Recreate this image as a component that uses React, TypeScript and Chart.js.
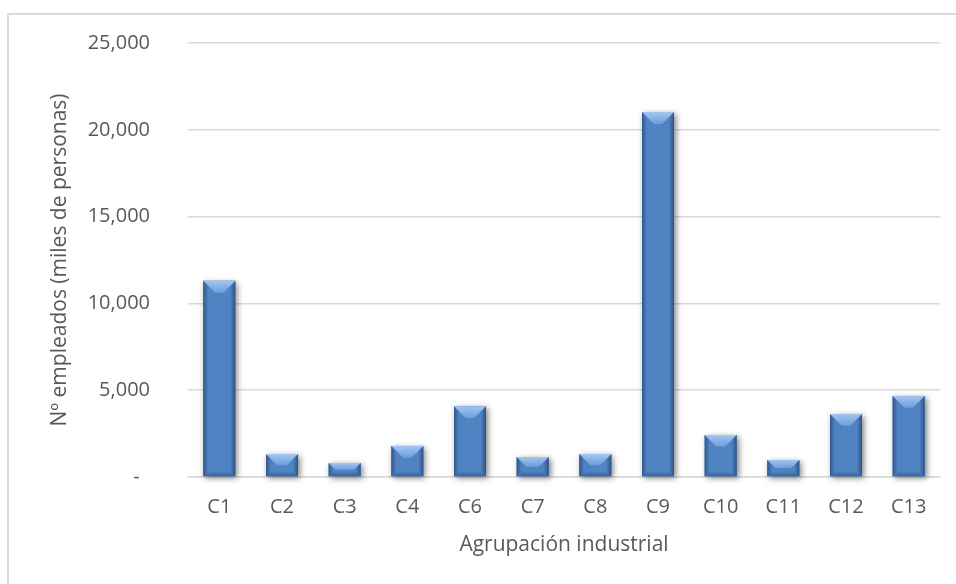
import React, { useEffect, useRef } from "react";
import { Chart, registerables } from "chart.js";

Chart.register(...registerables);

const categories = ["C1", "C2", "C3", "C4", "C6", "C7", "C8", "C9", "C10", "C11", "C12", "C13"];
const employees = [11300, 1320, 800, 1790, 4080, 1150, 1320, 21020, 2420, 980, 3630, 4670];
const yTicks = [0, 5000, 10000, 15000, 20000, 25000];

const FONT = "'Open Sans', sans-serif";
const BAR = "#4f83c3";
const TEXT = "#595959";

const bevelPlugin = {
  id: "bevel",
  beforeDatasetsDraw(chart: any) {
    const ctx = chart.ctx;
    const meta = chart.getDatasetMeta(0);
    meta.data.forEach((bar: any) => {
      const { x, y, base, width } = bar.getProps(["x", "y", "base", "width"], true);
      ctx.save();
      ctx.shadowColor = "rgba(0,0,0,0.5)";
      ctx.shadowBlur = 6;
      ctx.shadowOffsetX = 2;
      ctx.shadowOffsetY = 2;
      ctx.fillStyle = BAR;
      ctx.fillRect(x - width / 2, y, width, base - y);
      ctx.restore();
    });
  },
  afterDatasetsDraw(chart: any) {
    const ctx = chart.ctx;
    const meta = chart.getDatasetMeta(0);
    meta.data.forEach((bar: any) => {
      const { x, y, base, width } = bar.getProps(["x", "y", "base", "width"], true);
      const x0 = x - width / 2, x1 = x + width / 2, y0 = y, y1 = base;
      const h = y1 - y0;
      const b = Math.min(12, width * 0.37, h / 2);
      const s = Math.min(5, h / 2);
      ctx.save();
      let g = ctx.createLinearGradient(x0, 0, x0 + s, 0);
      g.addColorStop(0, "rgba(25,50,90,0.55)");
      g.addColorStop(1, "rgba(25,50,90,0)");
      ctx.fillStyle = g;
      ctx.beginPath();
      ctx.moveTo(x0, y0); ctx.lineTo(x0 + s, y0 + s); ctx.lineTo(x0 + s, y1 - s); ctx.lineTo(x0, y1); ctx.closePath();
      ctx.fill();
      g = ctx.createLinearGradient(x1 - s, 0, x1, 0);
      g.addColorStop(0, "rgba(25,50,90,0)");
      g.addColorStop(1, "rgba(25,50,90,0.6)");
      ctx.fillStyle = g;
      ctx.beginPath();
      ctx.moveTo(x1, y0); ctx.lineTo(x1 - s, y0 + s); ctx.lineTo(x1 - s, y1 - s); ctx.lineTo(x1, y1); ctx.closePath();
      ctx.fill();
      g = ctx.createLinearGradient(0, y1 - s, 0, y1);
      g.addColorStop(0, "rgba(25,50,90,0)");
      g.addColorStop(1, "rgba(25,50,90,0.4)");
      ctx.fillStyle = g;
      ctx.beginPath();
      ctx.moveTo(x0, y1); ctx.lineTo(x1, y1); ctx.lineTo(x1 - s, y1 - s); ctx.lineTo(x0 + s, y1 - s); ctx.closePath();
      ctx.fill();
      g = ctx.createLinearGradient(0, y0, 0, y0 + b);
      g.addColorStop(0, "#a3c6f0");
      g.addColorStop(1, "#6c9edb");
      ctx.fillStyle = g;
      ctx.beginPath();
      ctx.moveTo(x0, y0); ctx.lineTo(x1, y0); ctx.lineTo(x1 - b, y0 + b); ctx.lineTo(x0 + b, y0 + b); ctx.closePath();
      ctx.fill();
      ctx.restore();
    });
  },
};

export default function App() {
  const ref = useRef<HTMLCanvasElement | null>(null);
  useEffect(() => {
    if (!ref.current) return;
    const chart = new Chart(ref.current, {
      type: "bar",
      data: {
        labels: categories,
        datasets: [
          {
            label: "Nº empleados",
            data: employees,
            backgroundColor: BAR,
            borderWidth: 0,
            barPercentage: 0.51,
            categoryPercentage: 1,
          },
        ],
      },
      options: {
        responsive: false,
        animation: false,
        devicePixelRatio: 1,
        layout: { padding: { left: 34, right: 16, top: 28, bottom: 22 } },
        plugins: { legend: { display: false }, tooltip: { enabled: false } },
        scales: {
          x: {
            grid: { display: false, drawTicks: false },
            border: { display: true, color: "#d9d9d9", width: 1.5 },
            ticks: { color: TEXT, font: { family: FONT, size: 20 }, padding: 18 },
            title: {
              display: true,
              text: "Agrupación industrial",
              color: TEXT,
              font: { family: FONT, size: 21 },
              padding: { top: 4, bottom: 4 },
            },
            afterFit(scale: any) {
              scale.height = 85;
            },
          },
          y: {
            min: 0,
            max: 25000,
            afterBuildTicks(scale: any) {
              scale.ticks = yTicks.map((v) => ({ value: v }));
            },
            grid: { color: "#d9d9d9", lineWidth: 1.5, drawTicks: false },
            border: { display: false },
            ticks: {
              color: TEXT,
              font: { family: FONT, size: 20 },
              padding: 38,
              callback: (v: any) => (Number(v) === 0 ? "-  " : Number(v).toLocaleString("en-US")),
            },
            title: {
              display: true,
              text: "Nº empleados (miles de personas)",
              color: TEXT,
              font: { family: FONT, size: 21 },
              padding: { top: 4, bottom: 4 },
            },
            afterFit(scale: any) {
              scale.width = 145;
              scale.paddingTop = 0;
              scale.paddingBottom = 0;
            },
          },
        },
      },
      plugins: [bevelPlugin],
    });
    return () => chart.destroy();
  }, []);

  return (
    <div
      style={{
        position: "fixed",
        left: 7,
        top: 13,
        right: 0,
        bottom: 0,
        borderLeft: "2px solid #d9d9d9",
        borderTop: "2px solid #d9d9d9",
        background: "#fff",
      }}
    >
      <canvas ref={ref} width={947} height={569} style={{ display: "block" }} />
    </div>
  );
}
